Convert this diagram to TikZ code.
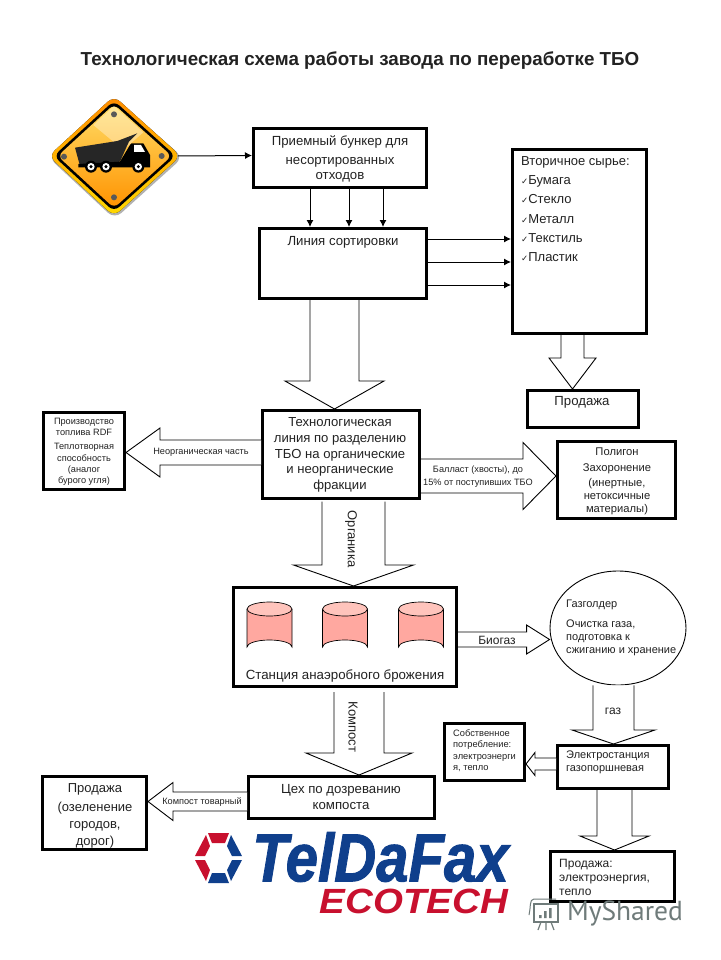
\documentclass[tikz,border=0pt]{standalone}
\usepackage{fontspec}
\setmainfont{Liberation Sans}
\newfontfamily\dvfont{DejaVu Sans}
\newfontfamily\ptfont{PT Sans}
\newfontfamily\logofont[FakeBold=1.5]{Liberation Sans}
\usetikzlibrary{calc,arrows.meta,shapes.geometric}
\definecolor{txt}{HTML}{222222}
\definecolor{logoblue}{HTML}{0F3F8C}
\definecolor{logored}{HTML}{C8102E}
\definecolor{cylbody}{HTML}{FFA8A0}
\definecolor{cyltop}{HTML}{FFC4BC}
\definecolor{wmark}{HTML}{6F7B7A}
\newcommand\fz[2]{\fontsize{#1}{#2}\selectfont}
\newcommand\ck{{\dvfont\bfseries\fontsize{8.5}{10}\selectfont ✓}}
\tikzset{
  box/.style={draw=black,line width=3pt,fill=white,inner sep=0pt,anchor=north west,text=txt,align=center},
  lab/.style={inner sep=0pt,text=txt,align=center},
  thin arrow/.style={draw=black,line width=1pt,-{Latex[length=7pt,width=7pt]}},
  blockarr/.style={draw=black,line width=.9pt,fill=white,line join=miter},
}
% from, to, half width, head half width, head length
\newcommand\blockarrow[5]{%
  \coordinate (F) at #1; \coordinate (T) at #2;
  \coordinate (N) at ($(T)!#5pt!(F)$);
  \draw[blockarr] ($(F)!#3pt!90:(T)$) -- ($(N)!#3pt!90:(T)$) -- ($(N)!#4pt!90:(T)$) -- (T)
    -- ($(N)!#4pt!-90:(T)$) -- ($(N)!#3pt!-90:(T)$) -- ($(F)!#3pt!-90:(T)$);
}
\begin{document}
\begin{tikzpicture}[x=1pt,y=-1pt]
\useasboundingbox (0,0) rectangle (720,960);
\fill[white] (0,0) rectangle (720,960);

% title
\node[lab,font=\fz{18.8}{22}\bfseries] (title) at (360,61) {Технологическая схема работы завода по переработке ТБО};

% boxes
\node[box,minimum width=173,minimum height=59] (bunker) at (252,127) {};
\node[lab,font=\fz{13.2}{15}] (bunkert) at (340,159) {Приемный бункер для\\[4pt]несортированных\\отходов};
\node[box,minimum width=167,minimum height=70] (sort) at (258,227) {};
\node[lab,font=\fz{13.2}{15}] (sortt) at (343,242) {Линия сортировки};
\node[box,minimum width=134,minimum height=184] (vtor) at (511,148) {};
\node[lab,anchor=north west,align=left,font=\fz{13}{19.3}] (vtort) at (521,156) {Вторичное сырье:\\
  \ck Бумага\\\ck Стекло\\\ck Металл\\\ck Текстиль\\\ck Пластик};
\node[box,minimum width=111,minimum height=37] (prodA) at (526,389) {};
\node[lab,font=\fz{13.2}{15}] (prodAt) at (582,402) {Продажа};
\node[box,minimum width=157,minimum height=88] (tech) at (261,409) {};
\node[lab,font=\fz{13.1}{15.8}] (techt) at (340,455) {Технологическая\\линия по разделению\\ТБО на органические\\и неорганические\\фракции};
\node[box,minimum width=81,minimum height=77] (rdf) at (42,411) {};
\node[lab,font=\fz{9.2}{11.3}] (rdft) at (84,452) {Производство\\топлива RDF\\[2.8pt]Теплотворная\\способность\\(аналог\\бурого угля)};
\node[box,minimum width=118,minimum height=77] (polygon) at (556,440) {};
\node[lab,font=\fz{11.2}{13}] (polygont) at (617,481) {Полигон\\[3pt]Захоронение\\[2pt](инертные,\\нетоксичные\\материалы)};
\node[box,minimum width=223,minimum height=99] (station) at (232,586) {};
\node[lab,font=\fz{13.3}{15}] (stationt) at (345,676) {Станция анаэробного брожения};
\node[draw=black,line width=.9pt,ellipse,fill=white,minimum width=136,minimum height=114,inner sep=0pt] (gasholder) at (618,628) {};
\node[lab,anchor=north west,align=left,font=\fz{11}{12.8}] (gast) at (566,600) {Газголдер\\[7pt]Очистка газа,\\подготовка к\\сжиганию и хранение};
\node[box,minimum width=111,minimum height=43] (elec) at (556,744) {};
\node[lab,anchor=west,align=left,font=\fz{11}{13.5}] (elect) at (566,762.5) {Электростанция\\газопоршневая};
\node[box,minimum width=80,minimum height=57] (own) at (443,722) {};
\node[lab,anchor=west,align=left,font=\fz{9.3}{11.5}] (ownt) at (453,750.5) {Собственное\\потребление:\\электроэнерги\\я, тепло};
\node[box,minimum width=186,minimum height=42] (ceh) at (247,775) {};
\node[lab,font=\fz{13.2}{16}] (eht) at (341,797) {Цех по дозреванию\\компоста};
\node[box,minimum width=104,minimum height=73] (prodC) at (41,775) {};
\node[lab,font=\fz{13}{17}] (prodCt) at (95,815.5) {Продажа\\[2pt](озеленение\\городов,\\дорог)};
\node[box,minimum width=124,minimum height=50] (prodD) at (549,850) {};
\node[lab,anchor=west,align=left,font=\fz{12}{14}] (prodDt) at (559,877) {Продажа:\\электроэнергия,\\тепло};

% cylinders
\foreach \cx in {269.5,345,421}{
  \draw[black,line width=.7pt,fill=cylbody] (\cx-22.5,609) -- (\cx-22.5,647) arc[start angle=180,end angle=360,x radius=22.5,y radius=7] -- (\cx+22.5,609);
  \draw[black,line width=.7pt,fill=cyltop] (\cx,609) ellipse[x radius=22.5,y radius=7];
}

% sign with truck
\node[inner sep=0pt,minimum width=126,minimum height=114] (sign) at (115,156) {};
\begin{scope}[shift={(30,80)},scale=1/3]
  \fill[black!30,rounded corners=9pt] (254,53)--(459,232)--(254,417)--(55,232)--cycle;
  \fill[top color=orange!90!yellow,bottom color=yellow!70!orange,rounded corners=8pt] (252,48)--(452,228)--(252,409)--(56,228)--cycle;
  \fill[black,rounded corners=7pt] (252,62)--(437,228)--(252,395)--(71,228)--cycle;
  \shade[top color=yellow!55!orange!60!white,bottom color=orange!85!yellow,rounded corners=6pt] (252,73)--(425,228)--(252,384)--(83,228)--cycle;
  \fill[white,opacity=.35] (190,135)--(252,78)--(340,157)--(280,210)--cycle;
  \foreach \sx/\sy in {252/103,395/228,252/352,102/230}{
    \fill[black!65] (\sx,\sy) circle[radius=9];
  }
  \fill[black!85] (135,203)--(262,183)--(322,160)--(297,185)--(290,200)--(270,245)--(150,258)--cycle;
  \fill[black] (305,190)--(340,190)--(360,225)--(360,262)--(145,262)--(145,252)--(270,245)--(300,195)--cycle;
  \fill[white] (312,195)--(333,195)--(345,216)--(312,216)--cycle;
  \foreach \wx in {183,228,325}{
    \fill[black] (\wx,260) circle[radius=18];
    \fill[white] (\wx,260) circle[radius=11];
    \fill[black] (\wx,260) circle[radius=5];
  }
\end{scope}

% thin connectors
\draw[thin arrow] (sign.east) -- ([yshift=2.5pt]bunker.west);
\draw[thin arrow] ([xshift=-30pt]bunker.south) -- ([xshift=-33pt]sort.north);
\draw[thin arrow] ([xshift=9pt]bunker.south) -- ([xshift=6pt]sort.north);
\draw[thin arrow] ([xshift=43pt]bunker.south) -- ([xshift=40pt]sort.north);
\draw[thin arrow] ([yshift=24.5pt]sort.east) -- ([yshift=2.5pt]vtor.west);
\draw[thin arrow] ([yshift=1.5pt]sort.east) -- ([yshift=-20.5pt]vtor.west);
\draw[thin arrow] ([yshift=-21.5pt]sort.east) -- ([yshift=-43.5pt]vtor.west);

% block arrows
\blockarrow{([xshift=-8.5pt]sort.south)}{([xshift=-6.5pt]tech.north)}{24.5}{49.5}{28}
\blockarrow{([xshift=-7pt]vtor.south)}{([xshift=-10.5pt]prodA.north)}{11.5}{23.5}{31}
\blockarrow{([yshift=2pt]tech.west)}{([yshift=-1.5pt]rdf.east)}{12.5}{24.5}{34}
\blockarrow{([yshift=-21.5pt]tech.east)}{([yshift=4pt]polygon.west)}{17}{33.5}{33}
\blockarrow{([xshift=12.5pt,yshift=-1.5pt]tech.south)}{([xshift=8.5pt]station.north)}{31.5}{60}{21}
\blockarrow{([yshift=-2.5pt]station.east)}{([yshift=-11.5pt]gasholder.west)}{7.5}{14.5}{23}
\blockarrow{([xshift=-4.5pt]gasholder.south)}{([xshift=.5pt]elec.north)}{20.5}{41.5}{14}
\blockarrow{([yshift=3pt]elec.west)}{([yshift=-12pt]own.east)}{6}{11.5}{9}
\blockarrow{([xshift=14pt,yshift=-4pt]station.south)}{([xshift=17.5pt]ceh.north)}{25}{53}{22}
\blockarrow{([yshift=-4pt]ceh.west)}{([yshift=11.5pt]prodC.east)}{9.5}{19}{25}
\blockarrow{([xshift=1.5pt]elec.south)}{([xshift=2pt]prodD.north)}{17.5}{34.5}{14}

% labels on arrows
\node[lab,font=\fz{9.2}{11}] (l1) at (201,452) {Неорганическая часть};
\node[lab,font=\fz{9.2}{12.5}] (l2) at (478,476.5) {Балласт (хвосты), до\\15\% от поступивших ТБО};
\node[lab,rotate=-90,font=\fz{13}{15}] (l3) at (351,539) {Органика};
\node[lab,font=\fz{12}{14}] (l4) at (497,640) {Биогаз};
\node[lab,font=\fz{12}{14}] (l5) at (613,711) {газ};
\node[lab,rotate=-90,font=\fz{13}{15}] (l6) at (353,727) {Компост};
\node[lab,font=\fz{9.2}{10}] (l7) at (202,802) {Компост товарный};

% TelDaFax logo
\begin{scope}[line width=0pt]
  \fill[logored] (208,833)--(229,833)--(225,843)--(212,843)--cycle;
  \fill[logoblue] (231,835)--(242,856)--(232,856)--(227,846)--cycle;
  \fill[logoblue] (242,860)--(231,881)--(227,870)--(232,860)--cycle;
  \fill[logoblue] (229,883)--(208,883)--(212,873)--(225,873)--cycle;
  \fill[logored] (206,881)--(195,860)--(205,860)--(210,870)--cycle;
  \fill[logored] (195,856)--(206,835)--(210,846)--(205,856)--cycle;
\end{scope}
\node[inner sep=0pt,text=logoblue,xscale=.855,font=\logofont\fz{68}{70}\bfseries\itshape] (tdf) at (380.5,857) {TelDaFax};
\node[inner sep=0pt,text=logored,xscale=1.1,font=\fz{35}{38}\bfseries\itshape] (eco) at (414,901) {ECOTECH};

% watermark
\node[inner sep=0pt,text=wmark,font=\ptfont\fz{27.5}{28}] (wm) at (625,914) {MyShared};
\begin{scope}[wmark]
  \draw[line width=1.5pt] (534,904) -- (558,904) -- (558,922) -- (534,922) -- cycle;
  \draw[line width=1pt] (529,915) .. controls (531,908) and (529,899) .. (534,899) -- (556,899);
  \fill (539,918) rectangle (541.5,915) (544,918) rectangle (546.5,911) (549,918) rectangle (551.5,908);
  \draw[line width=1.2pt] (541,922) -- (538,930) (546,922) -- (546,930) (551,922) -- (554,930);
\end{scope}
\end{tikzpicture}
\end{document}
